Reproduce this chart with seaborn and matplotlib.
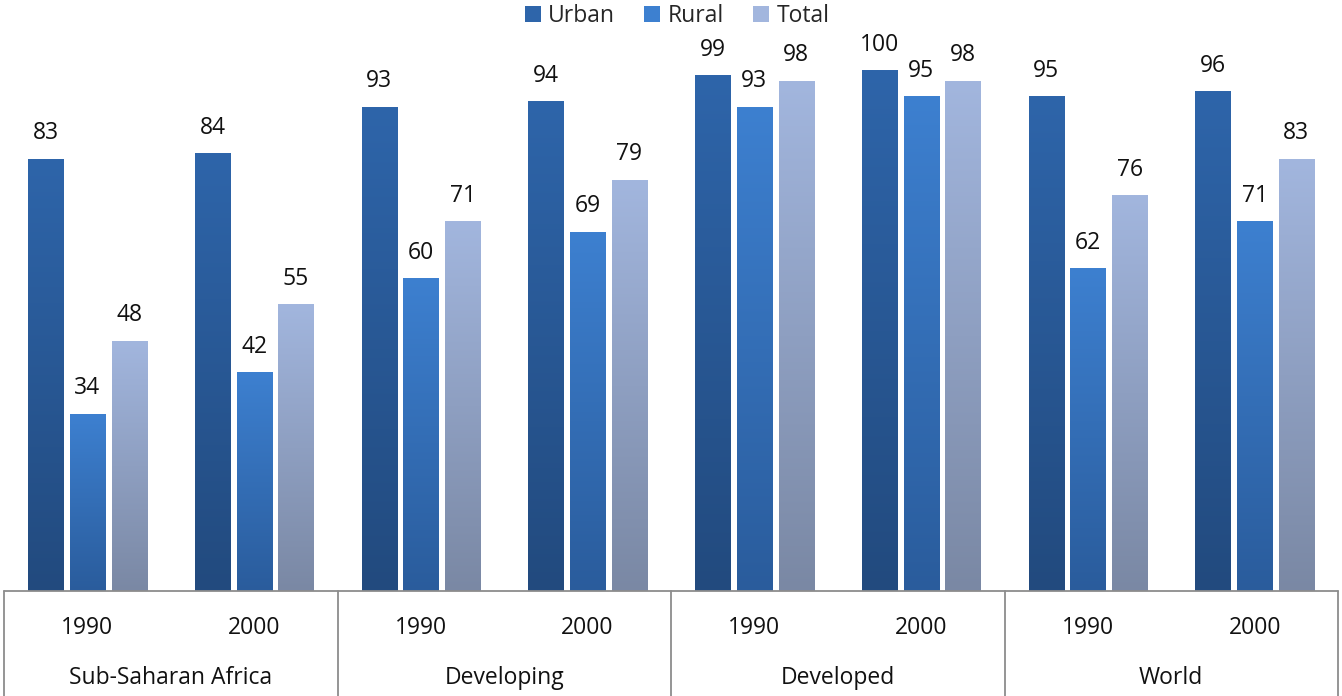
import numpy as np
import pandas as pd
import matplotlib
matplotlib.use("Agg")
import matplotlib.pyplot as plt
import seaborn as sns
from matplotlib.colors import LinearSegmentedColormap
from matplotlib.patches import Patch

regions = ["Sub-Saharan Africa", "Developing", "Developed", "World"]
years = ["1990", "2000"]
series = ["Urban", "Rural", "Total"]
urban = [83, 84, 93, 94, 99, 100, 95, 96]
rural = [34, 42, 60, 69, 93, 95, 62, 71]
total = [48, 55, 71, 79, 98, 98, 76, 83]

cats = [f"{r}|{y}" for r in regions for y in years]
df = pd.DataFrame({
    "cat": cats * 3,
    "series": [s for s in series for _ in cats],
    "value": urban + rural + total,
})

top_cols = {"Urban": "#2E65AA", "Rural": "#3D80D0", "Total": "#A2B6DE"}
bot_cols = {"Urban": "#224A7E", "Rural": "#2A5C9C", "Total": "#7A88A4"}

sns.set_theme(style="white")
plt.rcParams["font.family"] = ["Open Sans", "DejaVu Sans"]
FS = 16.5

fig = plt.figure(figsize=(13.42, 6.96), dpi=100)
ax = fig.add_axes([4 / 1342, 105 / 696, 1334 / 1342, 591 / 696])

sns.barplot(data=df, x="cat", y="value", hue="series", order=cats,
            hue_order=series, width=0.75, gap=0.16, ax=ax, legend=False,
            palette=[top_cols[s] for s in series])

YMAX = 113.6
ax.set_xlim(-0.5, len(cats) - 0.5)
ax.set_ylim(0, YMAX)

for cont, s in zip(ax.containers, series):
    cmap = LinearSegmentedColormap.from_list(s, [bot_cols[s], top_cols[s]])
    grad = np.linspace(0, 1, 256).reshape(-1, 1)
    for p, v in zip(cont.patches, df[df.series == s]["value"]):
        x0 = p.get_x(); w = p.get_width(); h = p.get_height()
        ax.imshow(grad, extent=(x0, x0 + w, 0, h), origin="lower",
                  cmap=cmap, aspect="auto", zorder=2)
        p.set_visible(False)
        ax.annotate(f"{v}", (x0 + w / 2, h), xytext=(0, 10),
                    textcoords="offset points", ha="center", va="bottom",
                    fontsize=FS, color="#111111")

ax.set_xlim(-0.5, len(cats) - 0.5)
ax.set_ylim(0, YMAX)
for sp in ax.spines.values():
    sp.set_visible(False)
ax.set_xticks([]); ax.set_yticks([])
ax.set_xlabel(""); ax.set_ylabel("")

# category axis
ax.plot([-0.5, len(cats) - 0.5], [0, 0], color="#8C8C8C", lw=1.3,
        clip_on=False, zorder=3)
for i, c in enumerate(cats):
    ax.text(i, -7.2, c.split("|")[1], ha="center", va="center",
            fontsize=FS, color="#111111")
for g, r in enumerate(regions):
    ax.text(2 * g + 0.5, -16.8, r, ha="center", va="center",
            fontsize=FS, color="#111111")
for b in range(len(regions) + 1):
    xb = 2 * b - 0.5
    ax.plot([xb, xb], [0, -20.2], color="#8C8C8C", lw=1.3, clip_on=False)

handles = [Patch(facecolor=top_cols[s], edgecolor="none", label=s) for s in series]
fig.legend(handles=handles, loc="center", bbox_to_anchor=(677 / 1342, 1 - 16 / 696),
           ncol=3, frameon=False, fontsize=FS, handlelength=0.7,
           handleheight=0.7, handletextpad=0.3, columnspacing=1.3,
           borderpad=0)

fig.savefig("out.png", dpi=100)
